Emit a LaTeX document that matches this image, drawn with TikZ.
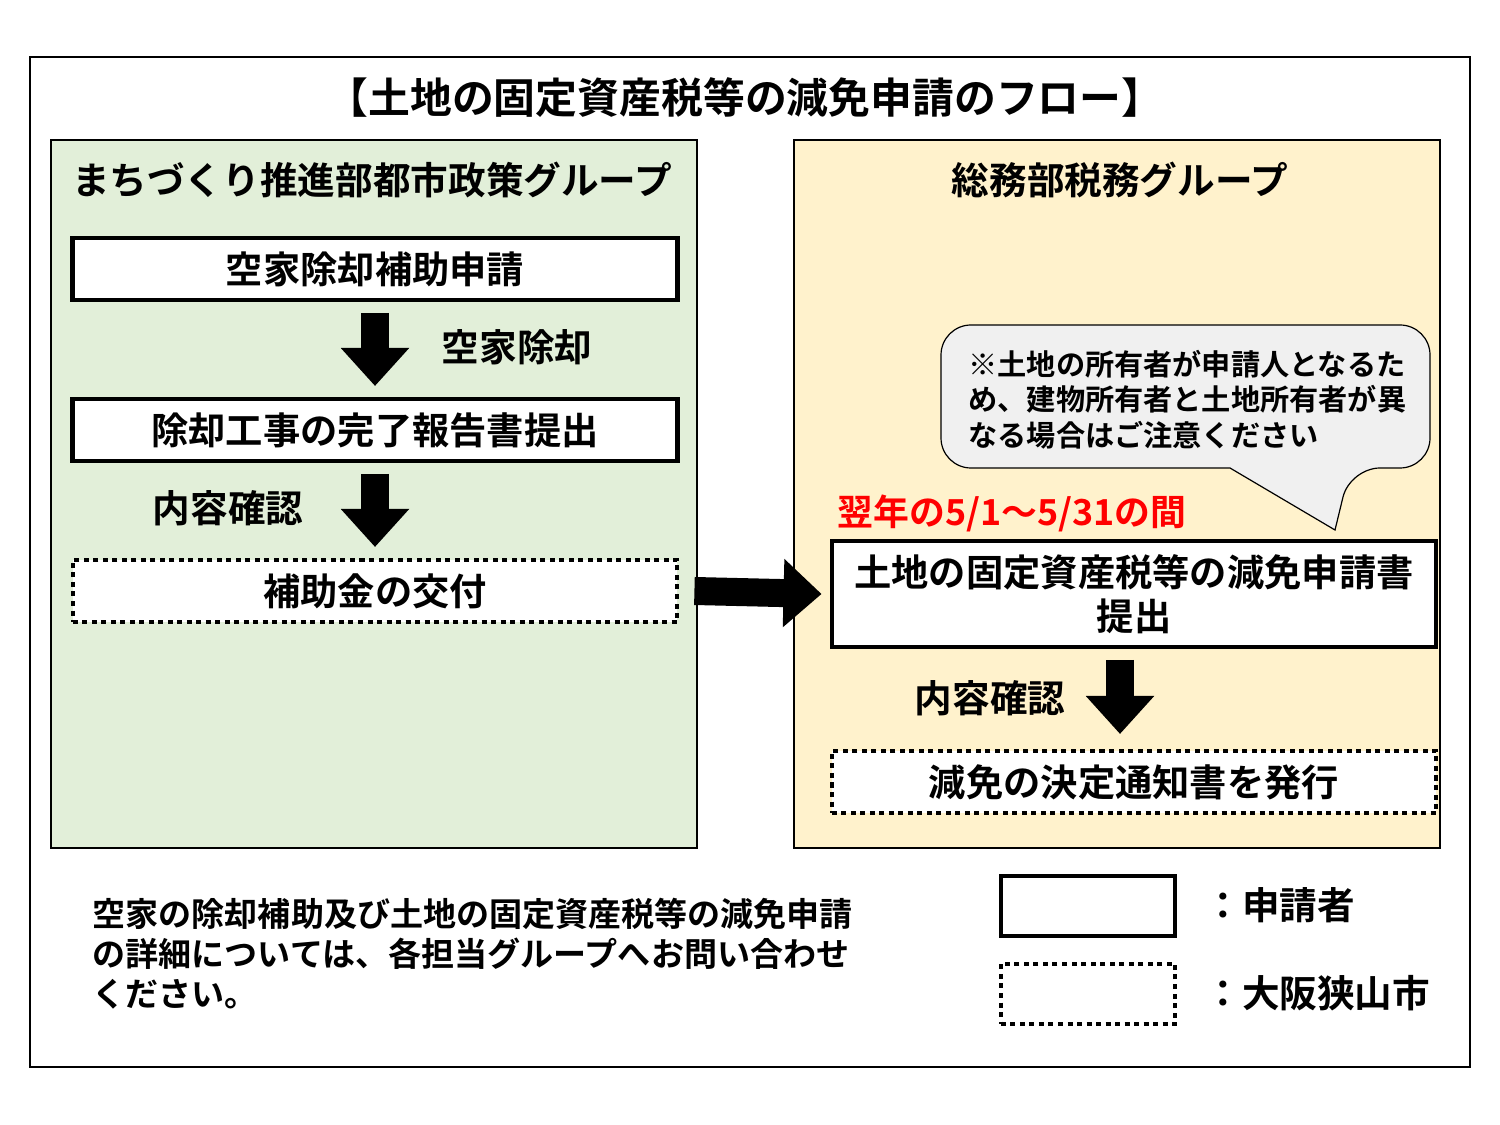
\documentclass[tikz,border=0pt]{standalone}
\usepackage{fontspec}
\setmainfont{Noto Sans CJK JP}[BoldFont={Noto Sans CJK JP Bold}]
\usetikzlibrary{arrows.meta,positioning,calc}
\definecolor{panelgreen}{HTML}{E2EFD9}
\definecolor{panelyellow}{HTML}{FFF2CC}
\definecolor{notegray}{HTML}{F0F0F0}
\tikzset{
  applicant/.style = {draw, fill=white, line width=0.045cm, minimum height=0.62cm, font=\bfseries\fontsize{10.6}{12.5}\selectfont, align=center},
  city/.style = {draw, fill=white, line width=0.045cm, dash pattern=on 0.05cm off 0.045cm, minimum height=0.62cm, font=\bfseries\fontsize{10.6}{12}\selectfont},
  flow/.style = {line width=0.28cm, -{Triangle[width=0.66cm,length=0.38cm]}},
  note/.style = {font=\bfseries\fontsize{10.7}{12}\selectfont}
}
\begin{document}
\begin{tikzpicture}[x=0.01cm,y=-0.01cm]
    \useasboundingbox (0,0) rectangle (1500,1125);
    % Frame and panels
    \draw[line width=0.015cm] (30,57) rectangle (1470,1067);
    \filldraw[fill=panelgreen,line width=0.012cm] (51,140) rectangle (697,848);
    \filldraw[fill=panelyellow,line width=0.012cm] (794,140) rectangle (1440,848);
    \node[font=\bfseries\fontsize{11.9}{13}\selectfont] (title) at (745,98) {【土地の固定資産税等の減免申請のフロー】};
    \node[note] (leftHead) at (372,180) {まちづくり推進部都市政策グループ};
    \node[note] (rightHead) at (1120,180) {総務部税務グループ};

    % Left flow
    \node[applicant, minimum width=6.05cm] (apply) at (375,269) {空家除却補助申請};
    \node[applicant, minimum width=6.05cm] (report) at (375,430) {除却工事の完了報告書提出};
    \node[city, minimum width=6.04cm] (grant) at (375,591) {補助金の交付};
    \coordinate (a1s) at (375,313); \coordinate (a1e) at (375,386);
    \coordinate (a2s) at (375,474); \coordinate (a2e) at (375,547);
    \draw[flow] (a1s) -- (a1e);
    \draw[flow] (a2s) -- (a2e);
    \node[note] (demolish) at (517,347) {空家除却};
    \node[note] (check1) at (228,508) {内容確認};

    % Right flow
    \node[applicant, minimum width=6.04cm, minimum height=1.06cm] (reduce) at (1134,594) {土地の固定資産税等の減免申請書\\提出};
    \node[city, minimum width=6.04cm] (notice) at (1134,782) {減免の決定通知書を発行};
    \coordinate (a3s) at (1120,660); \coordinate (a3e) at (1120,734);
    \draw[flow] (a3s) -- (a3e);
    \node[note] (check2) at (990,698) {内容確認};
    \node[font=\bfseries\fontsize{10.2}{12}\selectfont, text=red, anchor=west, inner sep=0] (period) at (837,513) {翌年の5/1〜5/31の間};
    \draw[flow] (grant.east) ++(15,0) coordinate (a4s) -- ($(reduce.west)+(-8,0)$) coordinate (a4e);

    % Callout
    \filldraw[fill=notegray, line width=0.012cm, rounded corners=0.3cm]
        (941,325) -- (1430,325) -- (1430,468) -- (1350,468) [sharp corners] -- (1335,530) -- (1230,468) [rounded corners=0.3cm] -- (941,468) -- cycle;
    \node[font=\bfseries\fontsize{8.3}{10}\selectfont, align=left, anchor=north west] (caution) at (956,338)
        {※土地の所有者が申請人となるた\\め、建物所有者と土地所有者が異\\なる場合はご注意ください};

    % Footnote and legend
    \node[font=\bfseries\fontsize{9.4}{11.4}\selectfont, align=left, anchor=north west, inner sep=0] (info) at (92,897)
        {空家の除却補助及び土地の固定資産税等の減免申請\\の詳細については、各担当グループへお問い合わせ\\ください。};
    \node[applicant, minimum width=1.74cm, minimum height=0.6cm] (keyA) at (1088,906) {};
    \node[city, minimum width=1.74cm, minimum height=0.6cm] (keyB) at (1088,994) {};
    \node[note, anchor=west] (keyAtext) at (1192,905) {：申請者};
    \node[note, anchor=west] (keyBtext) at (1192,993) {：大阪狭山市};
\end{tikzpicture}
\end{document}
